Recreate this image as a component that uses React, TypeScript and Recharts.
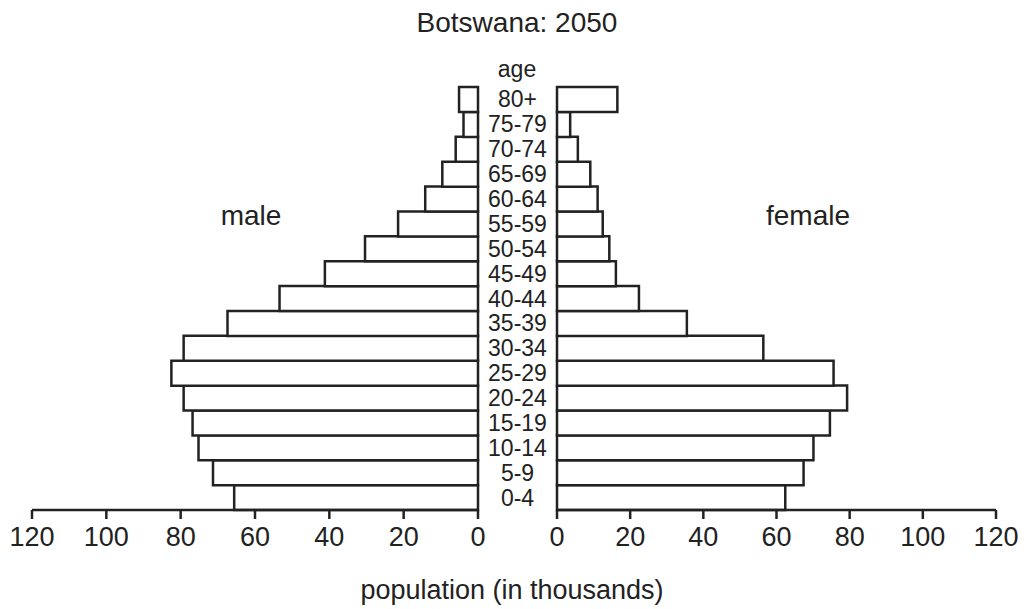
import React from 'react';
import { BarChart, Bar, XAxis, YAxis } from 'recharts';

// age groups, youngest first
const AGES = ['0-4', '5-9', '10-14', '15-19', '20-24', '25-29', '30-34', '35-39', '40-44', '45-49', '50-54', '55-59', '60-64', '65-69', '70-74', '75-79', '80+'];
// population in thousands
const MALE = [65.6, 71.3, 75.2, 76.8, 79.2, 82.5, 79.2, 67.4, 53.4, 41.2, 30.4, 21.5, 14.2, 9.6, 6.0, 3.9, 5.1];
const FEMALE = [62.4, 67.4, 70.1, 74.6, 79.3, 75.6, 56.4, 35.5, 22.4, 16.1, 14.3, 12.5, 11.1, 9.1, 5.7, 3.6, 16.5];
const X_TICKS = [0, 20, 40, 60, 80, 100, 120];

const INK = '#222';
const FONT = '"Liberation Sans", Arial, Helvetica, sans-serif';
const LINE_W = 2.5;

const maleData = AGES.map((age, i) => ({ age, value: MALE[i] }));
const femaleData = AGES.map((age, i) => ({ age, value: FEMALE[i] }));

const AgeTick = (props: any) => {
  const { x, y, payload } = props;
  return (
    <text x={x + 39.5} y={y} textAnchor="middle" dominantBaseline="central" fontSize={23} fill={INK} fontFamily={FONT}>
      {payload.value}
    </text>
  );
};

const xTickStyle = { fontSize: 27, fill: INK, fontFamily: FONT };

export default function App() {
  return (
    <div style={{ position: 'absolute', left: 0, top: 0, width: 1026, height: 609, background: '#fff', fontFamily: FONT }}>
      {/* male */}
      <div style={{ position: 'absolute', left: 0, top: 0 }}>
        <BarChart
          width={557}
          height={609}
          data={maleData}
          layout="vertical"
          barCategoryGap={0}
          margin={{ top: 87, right: 0, left: 32, bottom: 59 }}
        >
          <XAxis
            type="number"
            domain={[0, 120]}
            ticks={X_TICKS}
            reversed
            height={40}
            axisLine={{ stroke: INK, strokeWidth: LINE_W }}
            tickLine={{ stroke: INK, strokeWidth: LINE_W }}
            tickSize={9}
            tickMargin={8}
            tick={xTickStyle}
            interval={0}
          />
          <YAxis
            type="category"
            dataKey="age"
            orientation="right"
            reversed
            width={79}
            axisLine={false}
            tickLine={false}
            tickSize={0}
            tickMargin={0}
            interval={0}
            tick={<AgeTick />}
          />
          <Bar dataKey="value" fill="#fff" stroke={INK} strokeWidth={LINE_W} isAnimationActive={false} />
        </BarChart>
      </div>

      {/* female */}
      <div style={{ position: 'absolute', left: 520, top: 0 }}>
        <BarChart
          width={506}
          height={609}
          data={femaleData}
          layout="vertical"
          barCategoryGap={0}
          margin={{ top: 87, right: 30, left: 37, bottom: 59 }}
        >
          <XAxis
            type="number"
            domain={[0, 120]}
            ticks={X_TICKS}
            height={40}
            axisLine={{ stroke: INK, strokeWidth: LINE_W }}
            tickLine={{ stroke: INK, strokeWidth: LINE_W }}
            tickSize={9}
            tickMargin={8}
            tick={xTickStyle}
            interval={0}
          />
          <YAxis type="category" dataKey="age" reversed hide />
          <Bar dataKey="value" fill="#fff" stroke={INK} strokeWidth={LINE_W} isAnimationActive={false} />
        </BarChart>
      </div>

      {/* labels */}
      <svg width={1026} height={609} style={{ position: 'absolute', left: 0, top: 0, pointerEvents: 'none' }}>
        <g fontFamily={FONT} fill={INK} textAnchor="middle">
          <text x={517} y={32} fontSize={28}>Botswana: 2050</text>
          <text x={517} y={77} fontSize={23}>age</text>
          <text x={251} y={225} fontSize={28}>male</text>
          <text x={808} y={225} fontSize={28}>female</text>
          <text x={512} y={599} fontSize={27}>population (in thousands)</text>
        </g>
      </svg>
    </div>
  );
}
